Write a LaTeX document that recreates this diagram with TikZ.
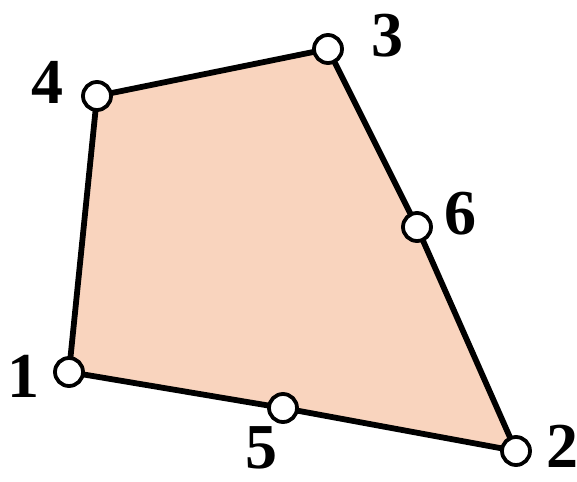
\documentclass[tikz,border=0pt]{standalone}
\usepackage{fontspec}
\setmainfont{Liberation Serif}
\definecolor{peach}{RGB}{249,212,190}
\begin{document}
\begin{tikzpicture}[x=1pt,y=-1pt,
  vtx/.style={circle,draw=black,fill=white,line width=3.8pt,minimum size=28pt,inner sep=0pt},
  lbl/.style={font=\fontsize{64}{64}\selectfont\bfseries,inner sep=0pt},
  edge/.style={line width=5.8pt,line join=round}]
\useasboundingbox (0,0) rectangle (577,481);
\coordinate (p1) at (69,372);
\coordinate (p2) at (516,451);
\coordinate (p3) at (328,49);
\coordinate (p4) at (97,96);
\coordinate (p5) at (283,408);
\coordinate (p6) at (417,227);
\fill[peach] (p1) -- (p5) -- (p2) -- (p6) -- (p3) -- (p4) -- cycle;
\draw[edge] (p1) -- (p5) -- (p2) -- (p6) -- (p3) -- (p4) -- cycle;
\node[vtx] (n1) at (p1) {};
\node[vtx] (n2) at (p2) {};
\node[vtx] (n3) at (p3) {};
\node[vtx] (n4) at (p4) {};
\node[vtx] (n5) at (p5) {};
\node[vtx] (n6) at (p6) {};
\node[lbl] (l1) at (24,376) {1};
\node[lbl] (l2) at (562,446) {2};
\node[lbl] (l3) at (387,36) {3};
\node[lbl] (l4) at (47,82) {4};
\node[lbl] (l5) at (261,448) {5};
\node[lbl] (l6) at (460,214) {6};
\end{tikzpicture}
\end{document}
